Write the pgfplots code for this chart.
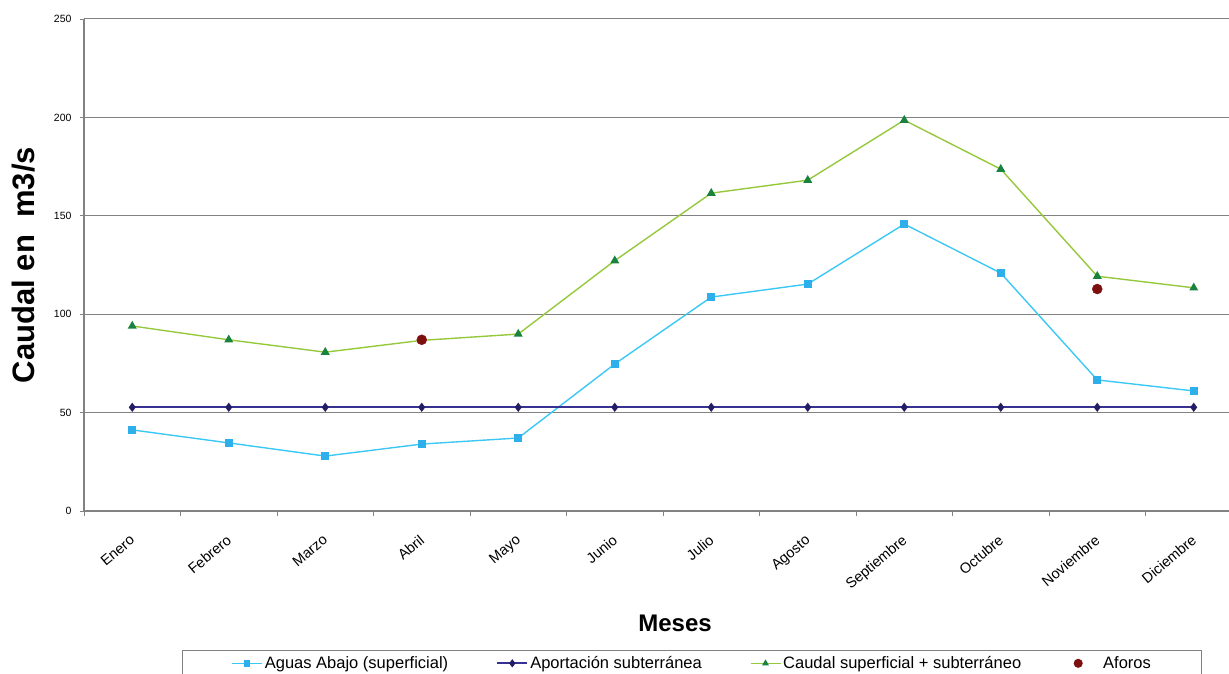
\documentclass[border=0pt]{standalone}
\usepackage{fontspec}
\setmainfont{Liberation Sans}
\usepackage{pgfplots}
\pgfplotsset{compat=1.18}
\definecolor{cblue}{RGB}{60,200,245}
\definecolor{cbluem}{RGB}{45,175,235}
\definecolor{cnavy}{RGB}{55,50,145}
\definecolor{cnavym}{RGB}{35,30,100}
\definecolor{cgreen}{RGB}{150,200,60}
\definecolor{cgreenm}{RGB}{25,130,60}
\definecolor{cred}{RGB}{125,15,15}
\definecolor{axgray}{RGB}{130,130,130}
\pgfplotsset{dotlegend/.style={legend image code/.code={\path[draw=none] (0pt,0pt) -- (32pt,0pt); \draw[##1, mark size=4pt] plot coordinates {(9pt,0pt)};}}}
\begin{document}
\begin{tikzpicture}
\begin{axis}[
  at={(84pt,163pt)}, anchor=south west,
  width=1158pt, height=492pt, scale only axis,
  xmin=-0.5, xmax=11.5, ymin=0, ymax=250,
  axis x line*=bottom, axis y line*=left,
  axis line style={draw=axgray, line width=1.2pt, -},
  xtick={0,...,11},
  xticklabels={Enero,Febrero,Marzo,Abril,Mayo,Junio,Julio,Agosto,Septiembre,Octubre,Noviembre,Diciembre},
  minor xtick={-0.5,0.5,...,11.5},
  major x tick style={draw=none},
  minor x tick style={draw=axgray, line width=0.8pt},
  ytick={0,50,...,250},
  major y tick style={draw=axgray, line width=0.8pt},
  tick align=outside,
  major tick length=4pt, minor tick length=5pt,
  ymajorgrids, grid style={draw=axgray, line width=1pt},
  /pgf/number format/assume math mode=true,
  yticklabel style={font=\fontsize{10.5}{12}\selectfont, xshift=-5pt},
  xticklabel style={font=\fontsize{14.5}{16}\selectfont, xshift=-3pt, yshift=-16pt, rotate=40, anchor=north east, inner sep=2pt},
  xlabel={Meses},
  xlabel style={at={(axis description cs:0.5104,-0.2276)}, anchor=center, font=\fontsize{24}{28}\selectfont\bfseries},
  ylabel={Caudal en\ \ m3/s},
  ylabel style={at={(axis description cs:-0.0518,0.5)}, anchor=center, font=\fontsize{31}{34}\selectfont\bfseries},
  legend columns=4,
  legend style={at={(axis description cs:0.0846,-0.2825)}, anchor=north west, draw=axgray, line width=1pt,
    font=\fontsize{16.5}{18}\selectfont, inner xsep=49pt, inner ysep=4pt,
    /tikz/every even column/.append style={column sep=46pt}},
  legend cell align=left,
  legend image code/.code={\draw[#1, mark repeat=2, mark phase=2, mark size=2.5pt] plot coordinates {(0pt,0pt) (15pt,0pt) (30pt,0pt)};},
]
\addplot[color=cblue, line width=1.4pt, mark=square*, mark size=3.2pt, mark options={fill=cbluem, draw=cbluem}]
coordinates {(0,41.2) (1,34.6) (2,27.9) (3,34.0) (4,37.1) (5,74.7) (6,108.7) (7,115.3) (8,145.8) (9,120.9) (10,66.6) (11,61.0)};
\addlegendentry{Aguas Abajo (superficial)}
\addplot[color=cnavy, line width=2pt, mark=diamond*, mark size=3pt, mark options={fill=cnavym, draw=cnavym}]
coordinates {(0,52.7) (1,52.7) (2,52.7) (3,52.7) (4,52.7) (5,52.7) (6,52.7) (7,52.7) (8,52.7) (9,52.7) (10,52.7) (11,52.7)};
\addlegendentry{Aportación subterránea}
\addplot[color=cgreen, line width=1.4pt, mark=triangle*, mark size=3.8pt, mark options={fill=cgreenm, draw=cgreenm}]
coordinates {(0,94.0) (1,87.0) (2,80.7) (3,86.7) (4,89.9) (5,127.2) (6,161.5) (7,168.1) (8,198.6) (9,173.7) (10,119.3) (11,113.4)};
\addlegendentry{Caudal superficial + subterráneo}
\addplot[only marks, mark=*, mark size=5pt, color=cred, mark options={fill=cred, draw=cred}, dotlegend]
coordinates {(3,87.0) (10,112.8)};
\addlegendentry{Aforos}
\end{axis}
\pgfresetboundingbox
\path[use as bounding box] (0,0) rectangle (1229pt,674pt);
\end{tikzpicture}
\end{document}
